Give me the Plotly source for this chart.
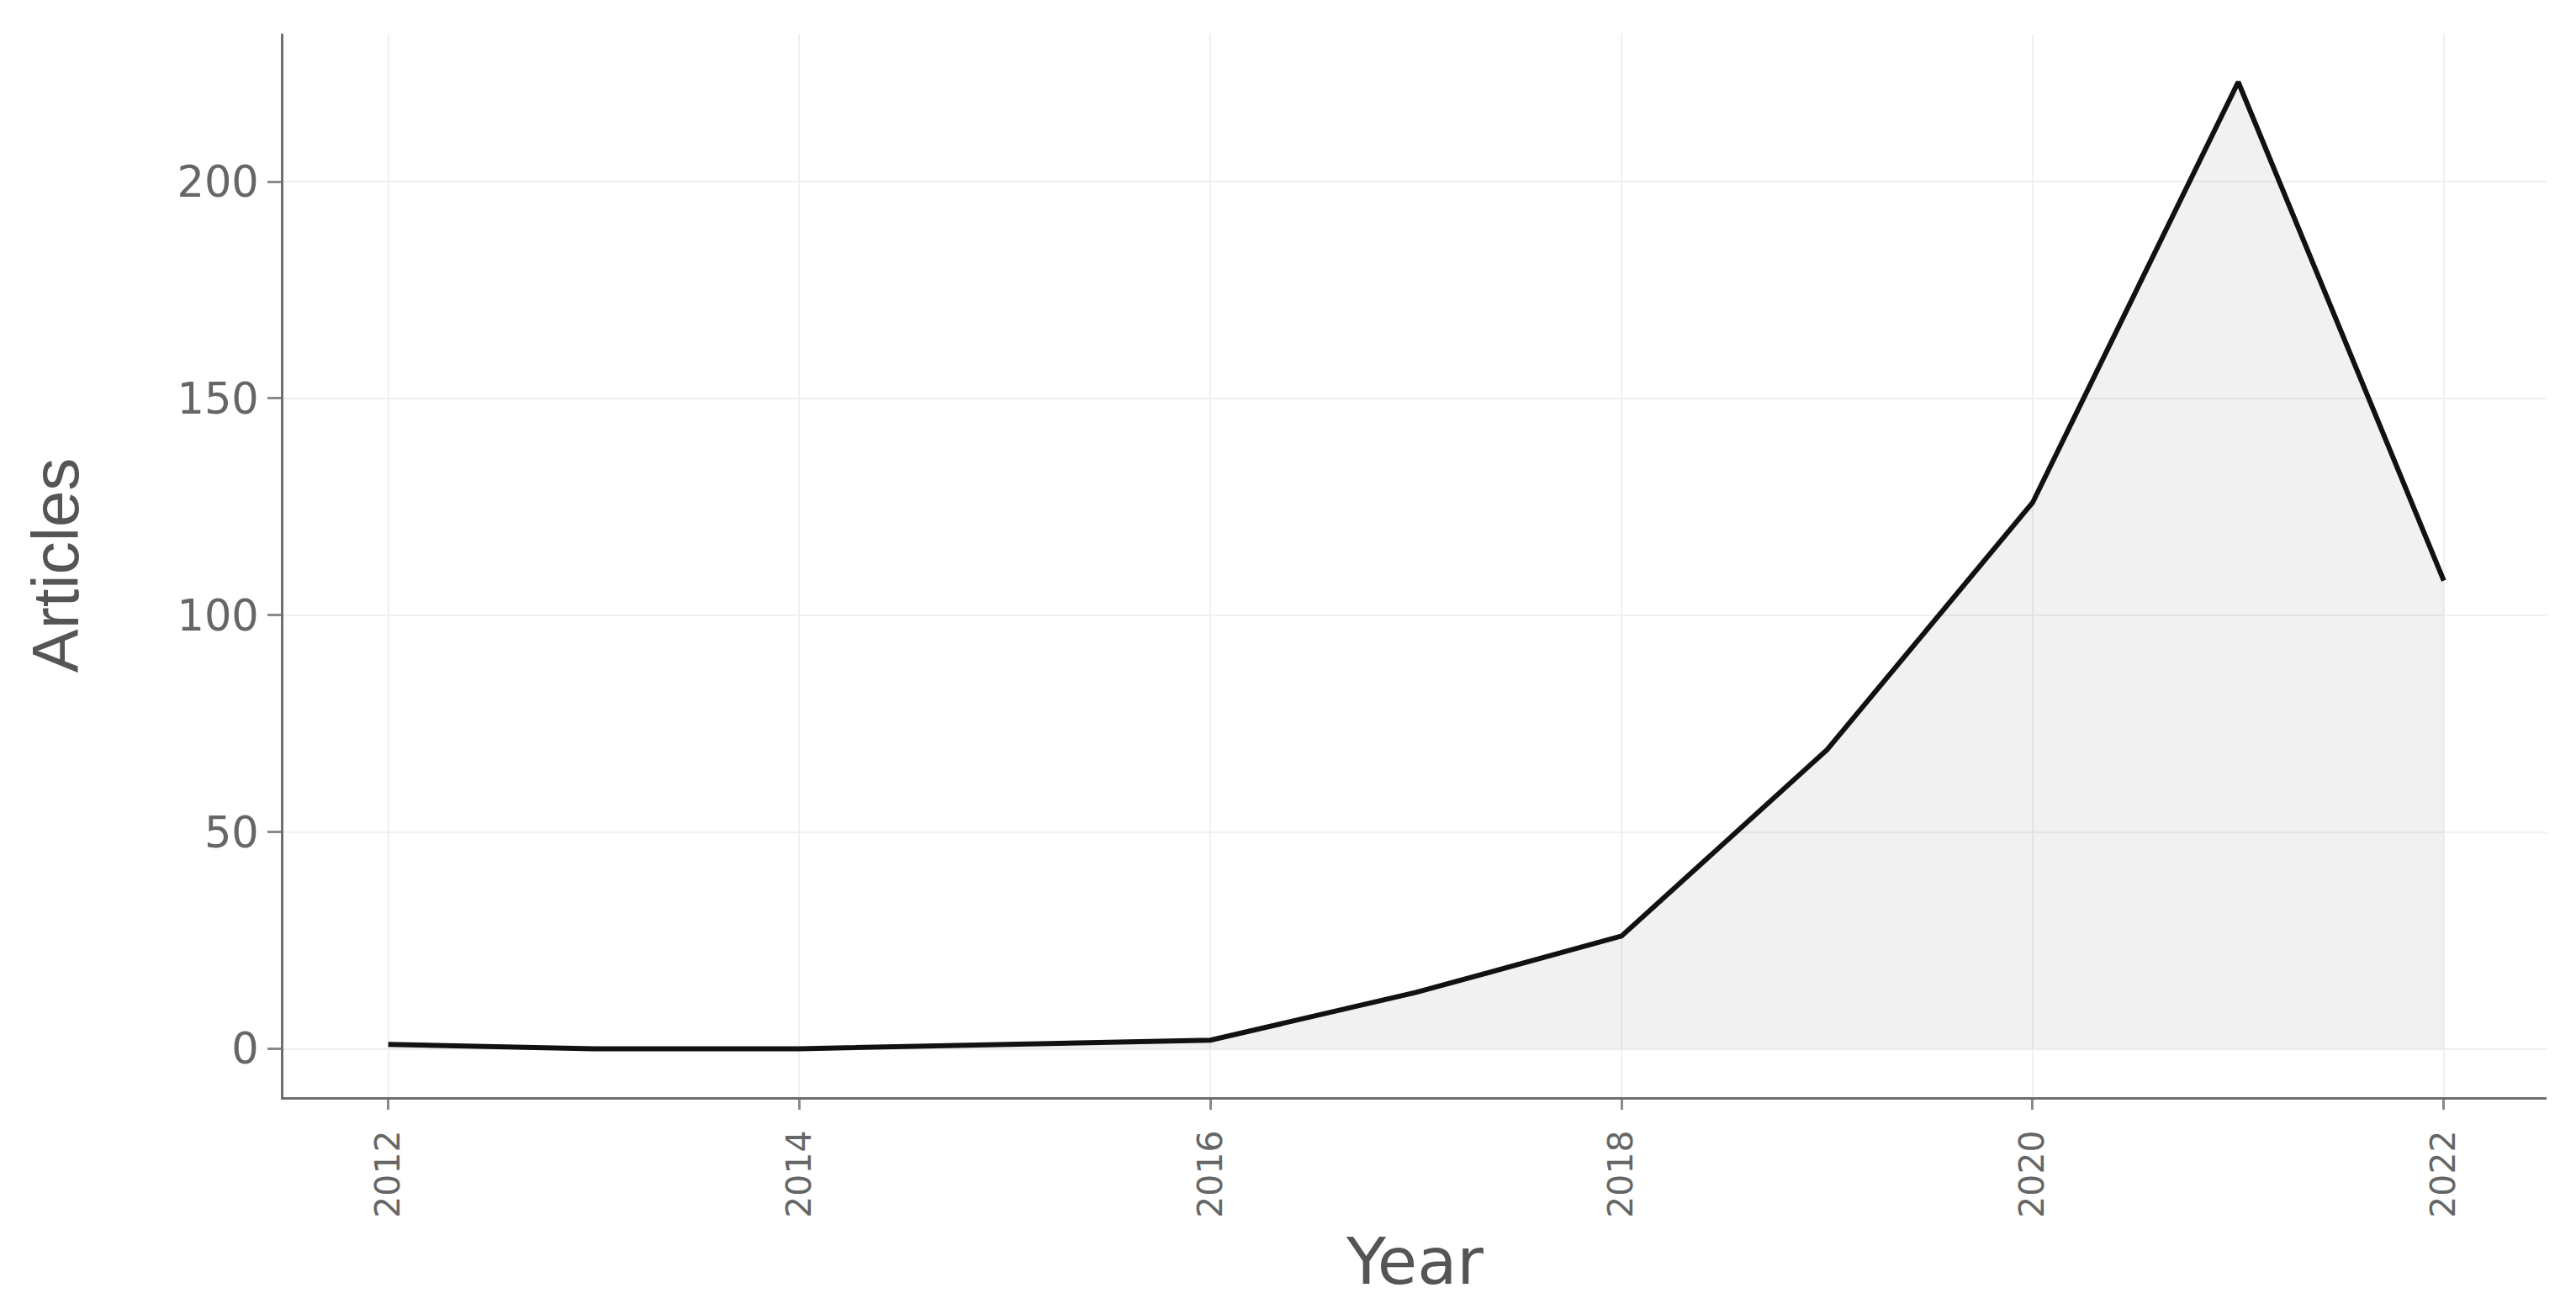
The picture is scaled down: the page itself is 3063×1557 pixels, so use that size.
import plotly.graph_objects as go

years = [2012, 2013, 2014, 2015, 2016, 2017, 2018, 2019, 2020, 2021, 2022]
articles = [1, 0, 0, 1, 2, 13, 26, 69, 126, 223, 108]
x_tick_vals = [2012, 2014, 2016, 2018, 2020, 2022]
y_tick_vals = [0, 50, 100, 150, 200]

fig = go.Figure()
fig.add_trace(go.Scatter(
    x=years, y=articles, mode="lines",
    line=dict(color="#111111", width=6),
    fill="tozeroy", fillcolor="rgba(0,0,0,0.055)",
    showlegend=False,
))

fig.update_layout(
    width=3055, height=1549,
    paper_bgcolor="white", plot_bgcolor="white",
    margin=dict(l=329, r=35, t=32, b=252),
    font=dict(family="DejaVu Sans", color="#666666"),
)
fig.update_xaxes(
    range=[2011.49, 2022.5],
    tickvals=x_tick_vals, ticktext=[str(v) for v in x_tick_vals],
    tickangle=-90,
    tickfont=dict(family="DejaVu Sans", size=41, color="#666666"),
    ticklabelstandoff=8,
    showgrid=True, gridcolor="#f0f0f0", gridwidth=2,
    showline=True, linecolor="#6e6e6e", linewidth=3,
    ticks="outside", ticklen=12, tickwidth=3, tickcolor="#8a8a8a",
    zeroline=False, automargin=False,
    title=dict(text="Year", font=dict(family="DejaVu Sans", size=77, color="#555555"), standoff=26),
)
fig.update_yaxes(
    range=[-11.15, 234.15],
    tickvals=y_tick_vals,
    tickfont=dict(family="DejaVu Sans", size=51, color="#666666"),
    showgrid=True, gridcolor="#f0f0f0", gridwidth=2,
    showline=True, linecolor="#6e6e6e", linewidth=3,
    ticks="outside", ticklen=16, tickwidth=3, tickcolor="#8a8a8a",
    zeroline=False, automargin=False,
    title=dict(text="Articles", font=dict(family="Liberation Sans", size=78, color="#555555"), standoff=92),
)

fig.write_html("out.html")
